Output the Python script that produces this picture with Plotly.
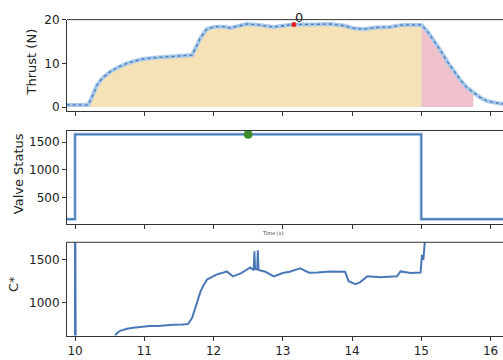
import plotly.graph_objects as go

# ---- data ----
thrust_t = [9.88, 10.0, 10.1, 10.19, 10.25, 10.32, 10.4, 10.5, 10.62, 10.75, 10.88, 10.98, 11.15, 11.33, 11.5, 11.63, 11.69,
            11.75, 11.81, 11.9, 11.97, 12.05, 12.15, 12.24, 12.35, 12.48, 12.65, 12.86, 13.0, 13.16, 13.4, 13.68, 13.9,
            14.0, 14.16, 14.35, 14.55, 14.74, 14.9, 15.0, 15.08, 15.17, 15.28, 15.38, 15.47, 15.56, 15.65, 15.75, 15.85,
            15.95, 16.05, 16.14, 16.2]
thrust_v = [0.5, 0.5, 0.4, 0.5, 2.5, 5.1, 6.7, 8.0, 9.1, 10.0, 10.6, 11.0, 11.3, 11.5, 11.7, 11.9, 11.9,
            13.8, 15.8, 17.8, 18.2, 18.4, 18.4, 18.1, 18.5, 19.0, 18.8, 18.3, 18.6, 18.9, 18.9, 19.0, 18.6,
            18.1, 17.8, 18.2, 18.3, 18.8, 18.8, 18.8, 17.5, 15.5, 12.9, 10.3, 8.2, 6.3, 4.6, 3.3, 2.2,
            1.4, 1.0, 0.8, 0.7]
burn_start, burn_end, tail_end = 10.19, 15.0, 15.75
peak_t, peak_v, peak_label = 13.16, 18.9, "0"

valve_t = [9.88, 10.0, 10.0, 15.0, 15.0, 16.2]
valve_v = [110, 110, 1640, 1640, 110, 110]
valve_mark_t, valve_mark_v = 12.5, 1640

cstar_t = [10.0, 10.0, 10.0, 10.01, 10.55, 10.6, 10.65, 10.75, 10.84, 10.95, 11.08, 11.2, 11.3, 11.42, 11.55, 11.63, 11.69,
           11.75, 11.81, 11.86, 11.91, 11.98, 12.05, 12.12, 12.19, 12.28, 12.4, 12.53, 12.58, 12.59, 12.6, 12.63, 12.64, 12.65,
           12.75, 12.87, 13.0, 13.1, 13.25, 13.38, 13.5, 13.68, 13.9, 13.95, 14.05, 14.12, 14.22, 14.41, 14.55, 14.65, 14.7,
           14.85, 14.99, 15.01, 15.03, 15.06]
cstar_v = [0, 0, 3000, 300, 560, 640, 670, 695, 705, 715, 727, 725, 735, 740, 745, 750, 818,
           960, 1125, 1210, 1273, 1300, 1330, 1345, 1364, 1307, 1345, 1410, 1380, 1600, 1390, 1390, 1610, 1380,
           1360, 1307, 1345, 1360, 1400, 1350, 1352, 1364, 1360, 1250, 1216, 1240, 1307, 1295, 1300, 1307, 1364,
           1345, 1352, 1557, 1500, 1800]

xticks = [10, 11, 12, 13, 14, 15, 16]

# ---- figure ----
blue = "#4a78b6"
light = "#a9c9ea"
fig = go.Figure()

# fills
i0 = next(i for i, t in enumerate(thrust_t) if t >= burn_start)
i1 = next(i for i, t in enumerate(thrust_t) if t >= burn_end)
i2 = next(i for i, t in enumerate(thrust_t) if t >= tail_end)
fill_t = thrust_t[i0:i1 + 1]
fill_v = thrust_v[i0:i1 + 1]
fig.add_trace(go.Scatter(x=[fill_t[0]] + fill_t + [fill_t[-1]], y=[0] + fill_v + [0], fill="toself",
                         fillcolor="#f5e2b6", line=dict(width=0), mode="lines", xaxis="x", yaxis="y", hoverinfo="skip"))
tail_t = thrust_t[i1:i2 + 1]
tail_v = thrust_v[i1:i2 + 1]
fig.add_trace(go.Scatter(x=[tail_t[0]] + tail_t + [tail_t[-1]], y=[0] + tail_v + [0], fill="toself",
                         fillcolor="#efc2cb", line=dict(width=0), mode="lines", xaxis="x", yaxis="y", hoverinfo="skip"))
# thrust lines
fig.add_trace(go.Scatter(x=thrust_t, y=thrust_v, mode="lines", line=dict(color=light, width=4), xaxis="x", yaxis="y"))
fig.add_trace(go.Scatter(x=thrust_t, y=thrust_v, mode="lines", line=dict(color=blue, width=1.3, dash="dot"),
                         xaxis="x", yaxis="y"))
fig.add_trace(go.Scatter(x=[peak_t], y=[peak_v], mode="markers", marker=dict(color="#e0201b", size=5),
                         xaxis="x", yaxis="y"))

# valve
fig.add_trace(go.Scatter(x=valve_t, y=valve_v, mode="lines", line=dict(color="#b9d3ee", width=3.5), xaxis="x2", yaxis="y2"))
fig.add_trace(go.Scatter(x=valve_t, y=valve_v, mode="lines", line=dict(color=blue, width=1.6), xaxis="x2", yaxis="y2"))
fig.add_trace(go.Scatter(x=[valve_mark_t], y=[valve_mark_v], mode="markers", marker=dict(color="#3d8a2a", size=9),
                         xaxis="x2", yaxis="y2"))

# cstar
fig.add_trace(go.Scatter(x=cstar_t, y=cstar_v, mode="lines", line=dict(color=blue, width=2), xaxis="x3", yaxis="y3"))

H = 360.0
def dom(top, bottom):
    return [1 - bottom / H, 1 - top / H]

font = dict(family="DejaVu Sans", size=12, color="#222")
xr = [9.884, 16.18]
xd = [67 / 503, 1.0]
common_x = dict(range=xr, domain=xd, showline=True, linecolor="#333", linewidth=1, ticks="outside", ticklen=4,
                tickcolor="#333", tickvals=xticks, showgrid=False, zeroline=False, tickfont=font)
common_y = dict(showline=True, linecolor="#333", linewidth=1, ticks="outside", ticklen=4, tickcolor="#333",
                showgrid=False, zeroline=False, tickfont=font)

fig.update_layout(
    width=503, height=360, margin=dict(l=0, r=0, t=0, b=0), showlegend=False,
    plot_bgcolor="white", paper_bgcolor="white", font=font,
    xaxis=dict(common_x, anchor="y", showticklabels=False),
    xaxis2=dict(common_x, anchor="y2", showticklabels=False),
    xaxis3=dict(common_x, anchor="y3"),
    yaxis=dict(common_y, domain=dom(13, 107), range=[-0.9, 20], tickvals=[0, 10, 20], anchor="x"),
    yaxis2=dict(common_y, domain=dom(127, 223), range=[26, 1710], tickvals=[500, 1000, 1500], anchor="x2"),
    yaxis3=dict(common_y, domain=dom(242, 338), range=[614, 1705], tickvals=[1000, 1500], anchor="x3"),
)

for ya in ["y", "y2", "y3"]:
    fig.add_shape(type="line", xref="paper", yref=ya + " domain", x0=xd[0], x1=1, y0=1, y1=1,
                  line=dict(color="#333", width=1))

# peak label
fig.add_annotation(text=peak_label, x=peak_t, y=peak_v, xref="x", yref="y", showarrow=False,
                   xanchor="left", yanchor="bottom", xshift=-1, yshift=-3,
                   font=dict(family="DejaVu Sans", size=13, color="#222"))

ann = [
    dict(text="Thrust (N)", x=31 / 503, y=1 - 57 / H),
    dict(text="Valve Status", x=18 / 503, y=1 - 172 / H),
    dict(text="C*", x=13 / 503, y=1 - 285 / H),
]
for a in ann:
    fig.add_annotation(text=a["text"], x=a["x"], y=a["y"], xref="paper", yref="paper", showarrow=False,
                       xanchor="center", yanchor="middle", textangle=-90,
                       font=dict(family="DejaVu Sans", size=13, color="#222"))
fig.add_annotation(text="Time (s)", x=272 / 503, y=1 - 232 / H, xref="paper", yref="paper", showarrow=False,
                   xanchor="center", yanchor="middle",
                   font=dict(family="DejaVu Sans", size=5, color="#333"))

fig.write_html("out.html")
